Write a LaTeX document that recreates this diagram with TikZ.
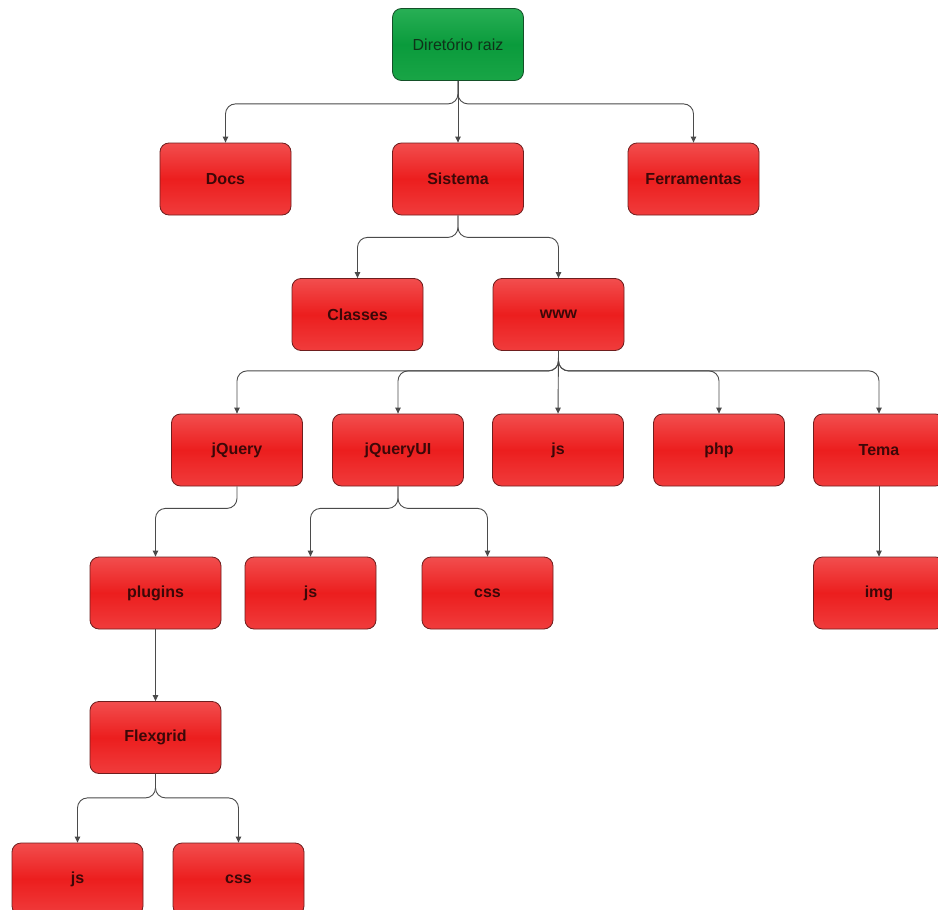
\documentclass[tikz,border=0pt]{standalone}
\usepackage{fontspec}
\setmainfont{Liberation Sans}
\usetikzlibrary{arrows.meta}
\definecolor{redtop}{RGB}{242,78,78}
\definecolor{redmid}{RGB}{236,30,30}
\definecolor{redbot}{RGB}{240,60,60}
\definecolor{redline}{RGB}{110,30,30}
\definecolor{grntop}{RGB}{40,175,85}
\definecolor{grnmid}{RGB}{10,155,60}
\definecolor{grnbot}{RGB}{25,165,70}
\definecolor{grnline}{RGB}{20,80,40}
\definecolor{txtred}{RGB}{60,8,8}
\definecolor{txtgrn}{RGB}{15,50,25}
\definecolor{conncol}{RGB}{75,75,75}
\tikzset{
  box/.style={rectangle, rounded corners=9pt, minimum width=131pt, minimum height=72pt,
    inner sep=0pt, line width=0.8pt, font=\fontsize{16}{19}\selectfont},
  redbox/.style={box, draw=redline, top color=redtop, bottom color=redbot, middle color=redmid,
    text=txtred, font=\fontsize{16}{19}\selectfont\bfseries},
  rootbox/.style={box, draw=grnline, top color=grntop, bottom color=grnbot, middle color=grnmid,
    text=txtgrn},
  conn/.style={draw=conncol, line width=0.9pt, rounded corners=10pt,
    -{Triangle[length=6pt,width=5.5pt]}}
}
\begin{document}
\begin{tikzpicture}[x=1pt,y=-1pt]
\useasboundingbox (0,0) rectangle (938,910);
\fill[white] (0,0) rectangle (938,910);
\node[rootbox] (root) at (458,44.5) {Diretório raiz};
\node[redbox] (docs) at (225.5,179) {Docs};
\node[redbox] (sistema) at (458,179) {Sistema};
\node[redbox] (ferr) at (693.5,179) {Ferramentas};
\node[redbox] (classes) at (357.5,314.5) {Classes};
\node[redbox] (www) at (558.5,314.5) {www};
\node[redbox] (jquery) at (237,450) {jQuery};
\node[redbox] (jqueryui) at (398,450) {jQueryUI};
\node[redbox] (wjs) at (558,450) {js};
\node[redbox] (php) at (719,450) {php};
\node[redbox] (tema) at (879,450) {Tema};
\node[redbox] (plugins) at (155.5,593) {plugins};
\node[redbox] (uijs) at (310.5,593) {js};
\node[redbox] (uicss) at (487.5,593) {css};
\node[redbox] (img) at (879,593) {img};
\node[redbox] (flex) at (155.5,737.5) {Flexgrid};
\node[redbox] (fjs) at (77.5,879) {js};
\node[redbox] (fcss) at (238.5,879) {css};

\draw[conn] (root.south) -- ([yshift=-23pt]root.south) -| (docs.north);
\draw[conn] (root.south) -- (sistema.north);
\draw[conn] (root.south) -- ([yshift=-23pt]root.south) -| (ferr.north);

\draw[conn] (sistema.south) -- ([yshift=-22pt]sistema.south) -| (classes.north);
\draw[conn] (sistema.south) -- ([yshift=-22pt]sistema.south) -| (www.north);

\draw[conn] (www.south) -- ([yshift=-20pt]www.south) -| (jquery.north);
\draw[conn] (www.south) -- ([yshift=-20pt]www.south) -| (jqueryui.north);
\draw[conn] (www.south) -- (wjs.north);
\draw[conn] (www.south) -- ([yshift=-20pt]www.south) -| (php.north);
\draw[conn] (www.south) -- ([yshift=-20pt]www.south) -| (tema.north);

\draw[conn] (jquery.south) -- ([yshift=-22pt]jquery.south) -| (plugins.north);
\draw[conn] (jqueryui.south) -- ([yshift=-22pt]jqueryui.south) -| (uijs.north);
\draw[conn] (jqueryui.south) -- ([yshift=-22pt]jqueryui.south) -| (uicss.north);
\draw[conn] (tema.south) -- (img.north);

\draw[conn] (plugins.south) -- (flex.north);
\draw[conn] (flex.south) -- ([yshift=-24pt]flex.south) -| (fjs.north);
\draw[conn] (flex.south) -- ([yshift=-24pt]flex.south) -| (fcss.north);
\end{tikzpicture}
\end{document}
